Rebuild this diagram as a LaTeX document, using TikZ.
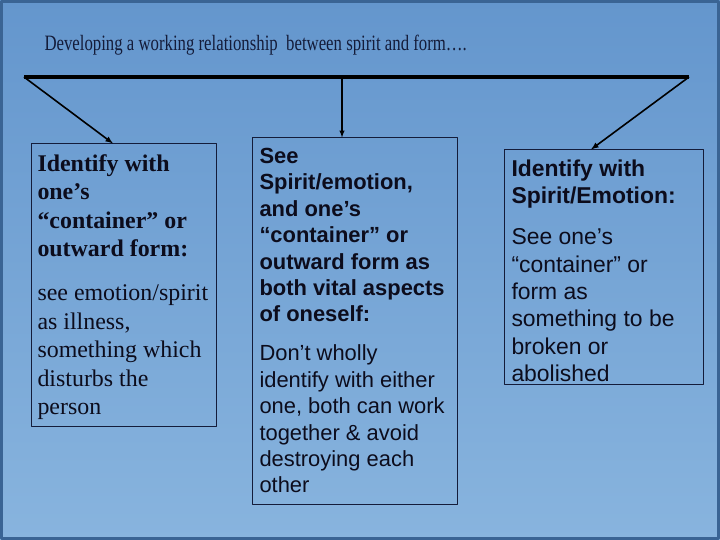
\documentclass[tikz,border=0pt]{standalone}
\usepackage{fontspec}
\setmainfont{Liberation Serif}
\setsansfont{Liberation Sans}
\newfontfamily\titlefont[FakeStretch=0.765]{Liberation Serif}
\usepackage[x11names, rgb]{xcolor}
\usepackage{tikz}
\usetikzlibrary{arrows,shapes}

\definecolor{bgtop}{RGB}{100,150,205}
\definecolor{bgmid}{RGB}{166,201,234}
\definecolor{bgbot}{RGB}{136,180,222}
\definecolor{bgframe}{RGB}{58,100,148}
\definecolor{boxcol}{RGB}{20,28,58}
\definecolor{textcol}{RGB}{12,12,28}

\begin{document}
\begin{tikzpicture}[>=latex,line join=bevel,
  panel/.style={draw=boxcol, line width=1bp, inner sep=0pt},
  paneltext/.style={anchor=north west, inner sep=0pt, align=left, text=textcol},
  ]
  \pgfsetlinewidth{1bp}
  \useasboundingbox (0bp,0bp) rectangle (720bp,540bp);
%%
% Background
  \shade[top color=bgtop, middle color=bgmid, bottom color=bgbot] (0bp,0bp) rectangle (720bp,540bp);
  \draw[line width=3bp, draw=bgframe] (1.5bp,1.5bp) rectangle (718.5bp,538.5bp);
  % Node: title
  \node[anchor=base west, inner sep=0pt, text=boxcol, font=\titlefont\fontsize{22}{26}\selectfont] (title) at (44bp,489bp) {Developing a working relationship\ \ between spirit and form….};
%%
% Node: left
\begin{scope}
  \node[panel, minimum width=185bp, minimum height=283bp] (left) at (123.5bp,254.5bp) {};
  \node[paneltext, font=\fontsize{24}{28.6}\selectfont] (lefttext) at (37bp,389bp) {\rule{0pt}{20bp}\textbf{Identify with}\\ \textbf{one’s}\\ \textbf{“container” or}\\ \textbf{outward form:}\\[15.5bp] see emotion/spirit\\ as illness,\\ something which\\ disturbs the\\ person};
\end{scope}
  % Node: mid
\begin{scope}
  \node[panel, minimum width=205bp, minimum height=367bp] (mid) at (354.5bp,218.5bp) {};
  \node[paneltext, font=\sffamily\fontsize{22}{26.5}\selectfont] (midtext) at (259bp,397bp) {\rule{0pt}{20bp}\textbf{See}\\ \textbf{Spirit/emotion,}\\ \textbf{and one’s}\\ \textbf{“container” or}\\ \textbf{outward form as}\\ \textbf{both vital aspects}\\ \textbf{of oneself:}\\[12.5bp] Don’t wholly\\ identify with either\\ one, both can work\\ together \& avoid\\ destroying each\\ other};
\end{scope}
  % Node: right
\begin{scope}
  \node[panel, minimum width=199bp, minimum height=235bp] (right) at (603.5bp,272.5bp) {};
  \node[paneltext, font=\sffamily\fontsize{23}{27.5}\selectfont] (righttext) at (511bp,384bp) {\rule{0pt}{20bp}\textbf{Identify with}\\ \textbf{Spirit/Emotion:}\\[13.5bp] See one’s\\ “container” or\\ form as\\ something to be\\ broken or\\ abolished};
\end{scope}
  \pgfsetcolor{black}
  % Edge: bar
  \coordinate (barL) at (24bp,463bp);
  \coordinate (barM) at (342bp,463bp);
  \coordinate (barR) at (689bp,463bp);
  \draw [line width=4bp] (barL) -- (barR);
  % Edge: bar -> left
  \draw [->, line width=1.6bp] (barL) -- ([xshift=-10.5bp]left.north);
  % Edge: bar -> mid
  \draw [->, line width=1.4bp] (barM) -- ([xshift=-12.5bp]mid.north);
  % Edge: bar -> right
  \draw [->, line width=1.6bp] (barR) -- ([xshift=-12.5bp]right.north);
%
\end{tikzpicture}
\end{document}
